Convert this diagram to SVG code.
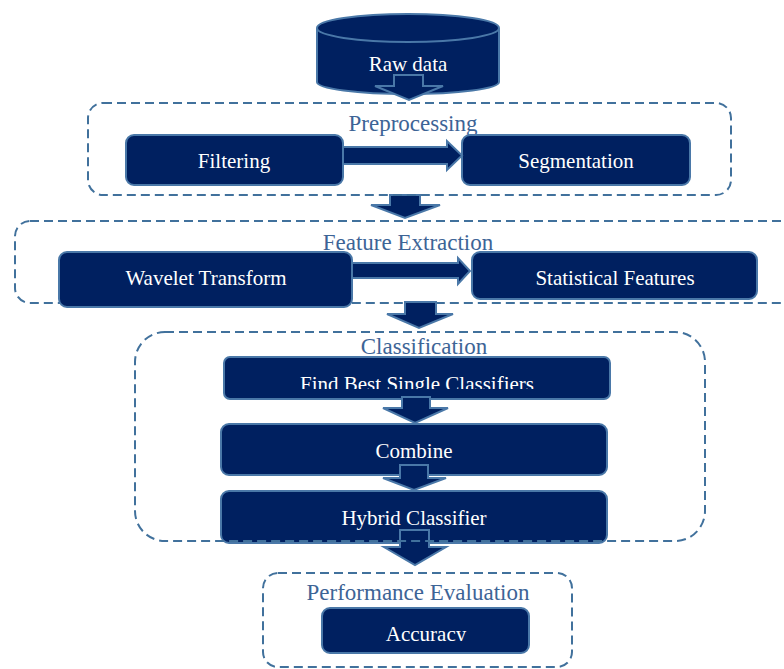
<svg xmlns="http://www.w3.org/2000/svg" width="784" height="669" viewBox="0 0 784 669">
<defs>
<style>
.node{fill:#002060;stroke:#4a78a8;stroke-width:2}
.arrow{fill:#002060;stroke:#4a78a8;stroke-width:2;stroke-linejoin:miter}
.group{fill:none;stroke:#41719c;stroke-width:2;stroke-dasharray:9 5}
.nt{font-size:21px;fill:#ffffff;text-anchor:middle}
.gt{font-size:23px;fill:#3d6496;text-anchor:middle}
</style>
<clipPath id="clipFind"><rect x="224" y="357" width="386" height="32"/></clipPath>
<clipPath id="clipAcc"><rect x="322" y="608" width="207" height="33"/></clipPath>
</defs>
<rect width="784" height="669" fill="#ffffff"/>
<g font-family="'Liberation Serif', 'Times New Roman', Times, serif">

<g id="raw-data">
<path class="node" d="M317,28 L317,82 A91,12 0 0 0 499,82 L499,28"/>
<ellipse class="node" cx="408" cy="28" rx="91" ry="14"/>
<text class="nt" x="408" y="71">Raw data</text>
</g>

<g id="group-labels">
<text class="gt" x="413" y="131">Preprocessing</text>
<text class="gt" x="408" y="250">Feature Extraction</text>
<text class="gt" x="424" y="354">Classification</text>
<text class="gt" x="418" y="600">Performance Evaluation</text>
</g>

<g id="filtering">
<rect class="node" x="126" y="135" width="217" height="50" rx="8"/>
<text class="nt" x="234" y="168">Filtering</text>
</g>
<g id="segmentation">
<rect class="node" x="462" y="135" width="228" height="50" rx="8"/>
<text class="nt" x="576" y="168">Segmentation</text>
</g>

<g id="feature-extraction">
<rect class="group" x="15" y="221" width="790" height="82" rx="15"/>
</g>
<g id="wavelet-transform">
<rect class="node" x="59" y="252" width="293" height="55" rx="8"/>
<text class="nt" x="206" y="285">Wavelet Transform</text>
</g>
<g id="statistical-features">
<rect class="node" x="472" y="252" width="285" height="47" rx="8"/>
<text class="nt" x="615" y="285">Statistical Features</text>
</g>

<g id="find-best">
<rect class="node" x="224" y="357" width="386" height="42" rx="6"/>
<text class="nt" x="417" y="391" clip-path="url(#clipFind)">Find Best Single Classifiers</text>
</g>
<g id="combine">
<rect class="node" x="221" y="424" width="386" height="51" rx="8"/>
<text class="nt" x="414" y="458">Combine</text>
</g>
<g id="hybrid-classifier">
<rect class="node" x="221" y="491" width="386" height="52" rx="8"/>
<text class="nt" x="414" y="525">Hybrid Classifier</text>
</g>

<g id="accuracy">
<rect class="node" x="322" y="608" width="207" height="45" rx="8"/>
<text class="nt" x="426" y="641" clip-path="url(#clipAcc)">Accuracy</text>
</g>

<g id="connectors">
<polygon class="arrow" points="394,75 423,75 423,86 443,86 409,100 375,86 394,86"/>
<polygon class="arrow" points="343,147 447,147 447,141 462,155.5 447,170 447,164 343,164"/>
<polygon class="arrow" points="390,195 420,195 420,205 440,205 405,218 371,205 390,205"/>
<polygon class="arrow" points="352,263 458,263 458,258 470,271 458,284 458,278 352,278"/>
<polygon class="arrow" points="405,302 436,302 436,314 453,314 419,328 387,314 405,314"/>
<polygon class="arrow" points="402,397 430,397 430,408 448,408 415,423 383,408 402,408"/>
<polygon class="arrow" points="400,465 428,465 428,478 446,478 414,490 383,478 400,478"/>
<polygon class="arrow" points="400,530 429,530 429,547 446,547 415,565 384,547 400,547"/>
</g>

<g id="preprocessing">
<rect class="group" x="88" y="103" width="643" height="92" rx="15"/>
</g>
<g id="classification">
<rect class="group" x="135" y="332" width="570" height="209" rx="30"/>
</g>
<g id="performance-evaluation">
<rect class="group" x="263" y="573" width="309" height="94" rx="15"/>
</g>
</g>
</svg>
